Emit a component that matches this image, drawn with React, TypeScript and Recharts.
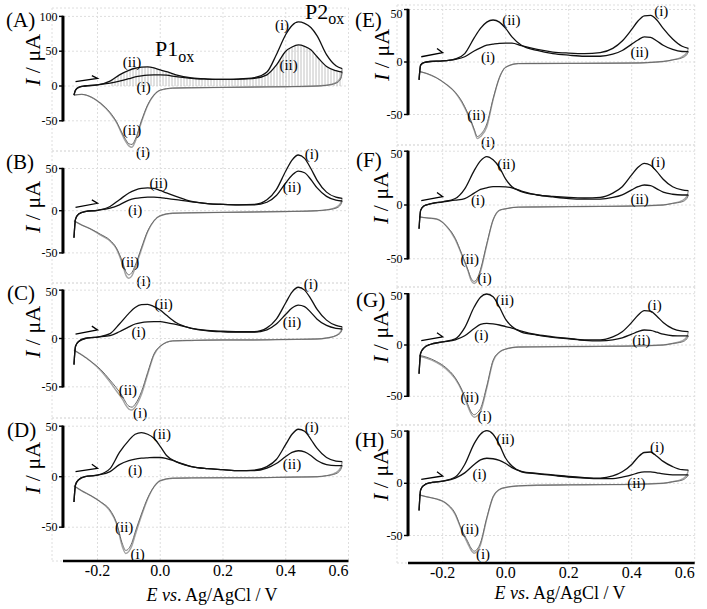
import React from "react";
import {
  ComposedChart,
  Line,
  Area,
  XAxis,
  YAxis,
  CartesianGrid,
  ReferenceDot,
  ReferenceArea,
} from "recharts";

const SERIF = "'Liberation Serif', 'Times New Roman', serif";

// potentials (V vs Ag/AgCl)
const FWD_E = [-0.275, -0.27, -0.26, -0.24, -0.2, -0.16, -0.13, -0.1, -0.08, -0.06, -0.04, -0.02, 0, 0.02, 0.05, 0.1, 0.15, 0.2, 0.25, 0.3, 0.34, 0.37, 0.4, 0.42, 0.44, 0.46, 0.48, 0.5, 0.53, 0.56, 0.58];
const REV_E = [0.58, 0.575, 0.56, 0.53, 0.5, 0.4, 0.3, 0.2, 0.1, 0.04, 0, -0.02, -0.04, -0.06, -0.08, -0.09, -0.1, -0.11, -0.12, -0.14, -0.16, -0.19, -0.22, -0.25, -0.275];
const X_TICKS = [-0.2, 0, 0.2, 0.4, 0.6];
const X_MIN = -0.345;
const X_MAX = 0.6;
const Y_AXIS_E = -0.31;

// currents (uA)
const A_FWD_I = [-13, -6, -2, 0, 1.5, 4, 7, 10.5, 13, 14.5, 15.5, 16, 16, 15.5, 13.5, 11, 10, 9.5, 10, 12, 20, 45, 74, 87, 92, 90, 84, 72, 45, 29, 25];
const A_FWD_II = [-13, -6, -2, 0, 1.5, 7, 16, 22.5, 25.5, 27, 27.5, 26, 23, 20.5, 16, 11.5, 10, 9.5, 10, 11, 16, 30, 50, 56, 59, 57, 52, 42, 28, 22, 20];
const A_REV_I = [25, 12, 5, 1, 0, -1, -1.5, -2, -2.5, -3, -6, -13, -28, -52, -80, -88, -86, -80, -71, -52, -39, -25, -16, -12, -13];
const A_REV_II = [20, 10, 4, 1, 0, -1, -1.5, -2, -2.5, -3, -6, -13, -27, -50, -77, -84, -83, -77, -69, -51, -38, -25, -16, -12, -13];

const B_FWD_I = [-32, -10, -4, -1, 0.5, 3, 7, 12.5, 14.5, 15.5, 16, 16, 15.5, 14.5, 13, 10.5, 8.5, 7.5, 7, 7.5, 13, 25, 47, 60, 66, 62, 50, 36, 22, 16, 14.7];
const B_FWD_II = [-32, -10, -4, -1, 0.5, 5, 13, 21, 24.5, 26.5, 27, 26.5, 24, 21, 17, 11, 8.5, 7.5, 7, 7, 10, 18, 33, 42, 47, 45, 37, 27, 17, 12.5, 11.5];
const B_REV_I = [14.7, 9, 4, 1, 0, -1, -1.5, -2, -2.5, -3, -6, -12, -25, -46, -68, -77, -80, -76, -64, -45, -36, -29, -22, -17, -12];
const B_REV_II = [11.5, 7, 3, 1, 0, -1, -1.5, -2, -2.5, -3, -6, -12, -24, -44, -65, -73, -76, -72, -61, -44, -35, -28, -22, -17, -12];

const C_FWD_I = [-27, -8, -3, 0, 1.5, 3, 7, 12, 15, 16.5, 17.2, 17.5, 17.4, 16.5, 14.5, 10.5, 8.5, 7.5, 7, 7, 11, 20, 37, 48, 53, 50, 41, 30, 19, 13.5, 12];
const C_FWD_II = [-27, -8, -3, 0, 1.5, 5, 15, 26, 32, 35, 35.3, 33, 29.5, 24, 16.5, 10.5, 8, 7, 6.5, 6.5, 9, 15, 25, 31.5, 34.6, 33, 27, 20, 13.5, 10.5, 9.8];
const C_REV_I = [12, 7, 3, 0.5, -0.5, -1, -1.5, -1.5, -2, -2.5, -8, -17, -37, -58, -71, -74, -73, -69, -63, -54, -45, -33, -24, -17, -12];
const C_REV_II = [9.8, 6, 3, 0.5, -0.5, -1, -1.5, -1.5, -2, -2.5, -8, -16, -35, -55, -68, -71, -70, -66, -60, -51, -43, -32, -24, -17, -12];

const D_FWD_I = [-25, -8, -3, 0, 1.5, 5, 12, 16, 17.5, 18.3, 18.7, 19, 19, 18, 15, 10, 8, 7, 6, 6.5, 10, 17, 32, 42, 47, 45, 37, 28, 19, 15.5, 14.9];
const D_FWD_II = [-25, -8, -3, 0, 1.5, 8, 24, 36, 42, 43.6, 42, 38, 30, 21, 15, 10, 8, 7, 6, 6, 8.5, 13, 20, 24, 25.7, 24.5, 21, 16, 12, 11, 11];
const D_REV_I = [14.9, 9, 4, 1, 0, -0.5, -1, -1, -1.2, -1.5, -4, -10, -22, -39, -58, -68, -74, -76, -70, -46, -34, -25, -19, -14, -9];
const D_REV_II = [11, 7, 3, 1, 0, -0.5, -1, -1, -1.2, -1.5, -4, -10, -21, -37, -55, -65, -71, -73, -67, -45, -33, -25, -19, -14, -9];

const E_FWD_I = [-17, -3, -0.5, 0.5, 1, 2.5, 5, 10.5, 13.5, 16, 17, 17.8, 18, 18, 15.5, 12, 9.5, 8.5, 8, 9, 13, 20, 31, 39, 44, 44.5, 40, 32, 22, 15, 13];
const E_FWD_II = [-17, -3, -0.5, 0.5, 1, 3, 8, 23, 32, 38, 40, 38, 32, 24, 16, 11, 8, 6.5, 5.5, 5.5, 7.5, 11, 17, 21, 24, 23.5, 20, 16, 12, 10, 9.8];
const E_REV_I = [13, 9, 5, 2, 0.5, -1, -1.2, -1.3, -1.4, -1.5, -5, -15, -36, -62, -71, -73, -65, -57, -50, -38, -29, -21, -15, -11, -9];
const E_REV_II = [9.8, 7, 4, 2, 0.5, -1, -1.2, -1.3, -1.4, -1.5, -5, -15, -35, -59, -69, -71, -64, -56, -49, -37, -29, -21, -15, -11, -9];

const F_FWD_I = [-22, -5, -1, 1, 3, 4.5, 6, 11, 14.5, 16, 17, 17, 16.8, 16, 13, 9.5, 8, 7, 6.5, 7, 11, 17, 28, 35, 38.7, 37, 31, 24, 17, 14, 13.3];
const F_FWD_II = [-22, -5, -1, 1, 3, 6, 15, 32, 41, 45, 42, 35, 24, 17, 12.5, 9.3, 7.5, 6, 5.5, 5.5, 7, 9.5, 14, 17, 18.6, 18, 15, 12, 10, 9.3, 9.3];
const F_REV_I = [13.3, 8, 4, 1.5, 0, -1, -1.3, -1.5, -1.8, -2, -3.5, -5, -14, -37, -62, -70, -73, -70, -61, -46, -32, -19, -13, -12, -11];
const F_REV_II = [9.3, 6, 3, 1.5, 0, -1, -1.3, -1.5, -1.8, -2, -3.5, -5, -14, -36, -60, -68, -71, -68, -60, -45, -31, -19, -13, -12, -11];

const G_FWD_I = [-28, -8, -3, 0.5, 3, 5, 9, 16, 20, 21, 20.5, 19.5, 18, 16.5, 13.5, 10, 8, 6.5, 5, 5, 8, 13, 22, 29, 33.5, 33, 28, 22, 16, 13.5, 13];
const G_FWD_II = [-28, -8, -3, 0.5, 3, 6, 17, 37, 46.5, 49.7, 47, 37, 25, 18, 12.5, 9.7, 7.5, 6, 4.5, 4, 5, 7, 10.5, 13, 14.6, 14.3, 12.5, 10.5, 9, 8.8, 8.8];
const G_REV_I = [13, 8, 4, 1.5, 0, -1, -1.3, -1.5, -1.8, -2, -4, -7, -16, -42, -65, -69, -70.4, -67, -60, -44, -33, -23, -17, -13, -11];
const G_REV_II = [8.8, 6, 3, 1.5, 0, -1, -1.3, -1.5, -1.8, -2, -4, -7, -15, -40, -62, -66, -68, -65, -58, -43, -32, -22, -16, -12, -10];

const H_FWD_I = [-26, -6.4, -2, 0.5, 2, 5, 10, 18, 22.5, 24, 23.5, 22, 19, 15, 11.5, 9.5, 8, 6.5, 5.5, 5, 7, 11, 18, 25, 29.5, 30, 26, 21, 16, 13, 12.7];
const H_FWD_II = [-26, -6.4, -2, 0.5, 2, 6, 18, 38, 47, 50.4, 47, 37, 24, 16.5, 11, 9, 7.5, 6, 5, 4.5, 4.5, 6, 8, 10, 11, 11, 10, 9, 8, 8, 8];
const H_REV_I = [12.7, 8, 4, 1.5, 0, -1, -1.3, -1.5, -1.8, -2.5, -4, -6, -13, -34, -59, -65, -67, -64, -58, -45, -30, -19, -15, -13, -11];
const H_REV_II = [8, 6, 3, 1.5, 0, -1, -1.3, -1.5, -1.8, -2.5, -4, -6, -13, -33, -57, -63, -65, -62, -56, -44, -29, -19, -15, -13, -11];

// peak labels: [E, I, text]
const A_LABELS = [[0.388, 87.6, "(i)"], [0.409, 30, "(ii)"], [-0.09, 35, "(ii)"], [-0.053, -1, "(i)"], [-0.09, -63, "(ii)"], [-0.055, -94, "(i)"]];
const B_LABELS = [[0.483, 68, "(i)"], [0.42, 28, "(ii)"], [-0.005, 33, "(ii)"], [-0.08, 1, "(i)"], [-0.096, -60, "(ii)"], [-0.053, -83, "(i)"]];
const C_LABELS = [[0.48, 57, "(i)"], [0.42, 17.4, "(ii)"], [0.011, 36, "(ii)"], [-0.069, 7, "(i)"], [-0.103, -53, "(ii)"], [-0.064, -77, "(i)"]];
const D_LABELS = [[0.483, 49.5, "(i)"], [0.42, 13, "(ii)"], [0.005, 43, "(ii)"], [-0.08, 6.6, "(i)"], [-0.115, -49.5, "(ii)"], [-0.072, -76.5, "(i)"]];
const E_LABELS = [[0.494, 49, "(i)"], [0.425, 9.8, "(ii)"], [0.018, 40, "(ii)"], [-0.056, 5, "(i)"], [-0.093, -50.5, "(ii)"], [-0.056, -76, "(i)"]];
const F_LABELS = [[0.484, 40, "(i)"], [0.425, 6.2, "(ii)"], [0.002, 38.7, "(ii)"], [-0.088, 4.6, "(i)"], [-0.114, -49.5, "(ii)"], [-0.067, -68, "(i)"]];
const G_LABELS = [[0.473, 39, "(i)"], [0.431, 4.9, "(ii)"], [-0.003, 43.8, "(ii)"], [-0.077, 9.7, "(i)"], [-0.114, -50.3, "(ii)"], [-0.067, -68.5, "(i)"]];
const H_LABELS = [[0.481, 35, "(i)"], [0.415, 0.6, "(ii)"], [-0.001, 43, "(ii)"], [-0.083, 9.6, "(i)"], [-0.114, -43, "(ii)"], [-0.072, -67.7, "(i)"]];

// scan direction arrows: [E1, I1, E2, I2]
const A_ARROW = [-0.27, 6.2, -0.2, 11];
const B_ARROW = [-0.27, 4, -0.2, 8.8];
const C_ARROW = [-0.27, 4.6, -0.2, 8.8];
const D_ARROW = [-0.27, 5, -0.2, 8.3];
const E_ARROW = [-0.268, 5, -0.2, 8.9];
const F_ARROW = [-0.268, 4, -0.2, 7.7];
const G_ARROW = [-0.268, 4.2, -0.2, 8];
const H_ARROW = [-0.268, 3.8, -0.2, 7];

// pxPerV: horizontal scale of each column (plot width / domain span)
const COLS = [
  { left: 11.76, width: 336.5, pxPerV: 313.75 },
  { left: 357.3, width: 337.7, pxPerV: 315 },
];

const PANELS = [
  { key: "A", col: 0, top: 8, plotH: 143, domain: [-93.39, 112.07], yTicks: [-50, 0, 50, 100], fwd: [A_FWD_I, A_FWD_II], rev: [A_REV_I, A_REV_II], labels: A_LABELS, arrow: A_ARROW, hatch: true },
  { key: "B", col: 0, top: 151, plotH: 132, domain: [-85.66, 70.73], yTicks: [-50, 0, 50], fwd: [B_FWD_I, B_FWD_II], rev: [B_REV_I, B_REV_II], labels: B_LABELS, arrow: B_ARROW },
  { key: "C", col: 0, top: 283, plotH: 135, domain: [-82.21, 57.39], yTicks: [-50, 0, 50], fwd: [C_FWD_I, C_FWD_II], rev: [C_REV_I, C_REV_II], labels: C_LABELS, arrow: C_ARROW },
  { key: "D", col: 0, top: 418, plotH: 143, domain: [-83.47, 58.12], yTicks: [-50, 0, 50], fwd: [D_FWD_I, D_FWD_II], rev: [D_REV_I, D_REV_II], labels: D_LABELS, arrow: D_ARROW, xAxis: true },
  { key: "E", col: 1, top: 5, plotH: 140, domain: [-79.05, 54.29], yTicks: [-50, 0, 50], fwd: [E_FWD_I, E_FWD_II], rev: [E_REV_I, E_REV_II], labels: E_LABELS, arrow: E_ARROW },
  { key: "F", col: 1, top: 145, plotH: 142, domain: [-76.21, 55.76], yTicks: [-50, 0, 50], fwd: [F_FWD_I, F_FWD_II], rev: [F_REV_I, F_REV_II], labels: F_LABELS, arrow: F_ARROW },
  { key: "G", col: 1, top: 287, plotH: 138, domain: [-77.97, 56.53], yTicks: [-50, 0, 50], fwd: [G_FWD_I, G_FWD_II], rev: [G_REV_I, G_REV_II], labels: G_LABELS, arrow: G_ARROW },
  { key: "H", col: 1, top: 425, plotH: 138, domain: [-76.34, 55.84], yTicks: [-50, 0, 50], fwd: [H_FWD_I, H_FWD_II], rev: [H_REV_I, H_REV_II], labels: H_LABELS, arrow: H_ARROW, xAxis: true },
];

const LETTERS = [
  { t: "(A)", x: 6, y: 20 }, { t: "(B)", x: 6, y: 162 }, { t: "(C)", x: 7, y: 293 }, { t: "(D)", x: 7, y: 430 },
  { t: "(E)", x: 355, y: 20 }, { t: "(F)", x: 356, y: 160 }, { t: "(G)", x: 356, y: 300 }, { t: "(H)", x: 355, y: 440 },
];
const Y_TITLES = [
  { x: 33, y: 60 }, { x: 33, y: 207 }, { x: 33, y: 332 }, { x: 33, y: 468 },
  { x: 382, y: 55 }, { x: 381, y: 198 }, { x: 381, y: 337 }, { x: 381, y: 475 },
];

const pts = (es: number[], is: number[]) => es.map((e, k) => ({ e, i: is[k] }));

// y tick label, nudged right so it sits just left of the drawn axis line
const YTick = (props: any) => (
  <text
    x={props.x + 11.5}
    y={props.y}
    dy="0.35em"
    textAnchor="end"
    fontSize={12}
    fontFamily={SERIF}
    fill="#000"
  >
    {props.payload.value}
  </text>
);

function Panel({ p }: { p: any }) {
  const col = COLS[p.col];
  const axisH = p.xAxis ? 32 : 0;
  const topTick = p.yTicks[p.yTicks.length - 1];
  const [x1, y1, x2, y2] = p.arrow;
  const yScale = p.plotH / (p.domain[1] - p.domain[0]); // px per uA
  const halfW = 1.3 / col.pxPerV; // half of the axis bar width, in V
  const stubLen = 4 / col.pxPerV;
  const stubHalfH = 0.7 / yScale;
  const hatchData = pts(FWD_E, p.fwd[1]).filter((d) => d.e >= -0.16);
  const axisData = [{ e: Y_AXIS_E, i: -50 }, { e: Y_AXIS_E, i: 0 }, { e: Y_AXIS_E, i: topTick }];
  const xAxisData = [{ e: Y_AXIS_E, i: p.domain[0] }, { e: X_MAX, i: p.domain[0] }];
  const arrowData = [{ e: x1, i: y1 }, { e: x2, i: y2 }, { e: x2 - 0.018, i: y2 + 4 }];
  const lineProps = { dataKey: "i", dot: false, activeDot: false, type: "monotone" as const, isAnimationActive: false };

  return (
    <div style={{ position: "absolute", left: col.left, top: p.top }}>
      <ComposedChart width={col.width} height={p.plotH + axisH} margin={{ top: 0, right: 0, bottom: 0, left: 0 }}>
        <defs>
          <pattern id={`hatch${p.key}`} width={3} height={6} patternUnits="userSpaceOnUse">
            <line x1={1} y1={0} x2={1} y2={6} stroke="#c2c2c2" strokeWidth={1} />
          </pattern>
        </defs>
        <CartesianGrid stroke="#dedede" strokeDasharray="2 2" />
        <XAxis
          type="number"
          dataKey="e"
          domain={[X_MIN, X_MAX]}
          ticks={X_TICKS}
          hide={!p.xAxis}
          height={axisH}
          tickFormatter={(v: number) => v.toFixed(1)}
          axisLine={false}
          tickLine={false}
          tickSize={2}
          tickMargin={2}
          tick={{ fill: "#000", fontSize: 16, fontFamily: SERIF }}
        />
        <YAxis
          type="number"
          domain={p.domain}
          ticks={p.yTicks}
          width={40}
          axisLine={false}
          tickLine={false}
          tickSize={4}
          tickMargin={2}
          tick={YTick}
        />
        {p.hatch && (
          <Area
            data={hatchData}
            dataKey="i"
            baseValue={0}
            type="monotone"
            stroke="none"
            fill={`url(#hatch${p.key})`}
            fillOpacity={1}
            isAnimationActive={false}
          />
        )}
        <Line {...lineProps} data={pts(REV_E, p.rev[0])} stroke="#a3a3a3" strokeWidth={1.4} />
        <Line {...lineProps} data={pts(REV_E, p.rev[1])} stroke="#6a6a6a" strokeWidth={1} />
        <Line {...lineProps} data={pts(FWD_E, p.fwd[0])} stroke="#111" strokeWidth={1.3} />
        <Line {...lineProps} data={pts(FWD_E, p.fwd[1])} stroke="#111" strokeWidth={1.3} />
        {/* y axis bar, drawn as a thin filled area in data units */}
        <ReferenceArea
          x1={Y_AXIS_E - halfW}
          x2={Y_AXIS_E + halfW}
          y1={-50 - stubHalfH}
          y2={topTick + stubHalfH}
          fill="#000"
          fillOpacity={1}
          stroke="none"
          ifOverflow="visible"
        />
        {p.yTicks.map((t: number) => (
          <ReferenceArea
            key={`stubA${t}`}
            x1={Y_AXIS_E - stubLen}
            x2={Y_AXIS_E}
            y1={t - stubHalfH}
            y2={t + stubHalfH}
            fill="#000"
            fillOpacity={1}
            stroke="none"
            ifOverflow="visible"
          />
        ))}
        <Line {...lineProps} type="linear" data={axisData} stroke="#000" strokeWidth={2.6} />
        {p.xAxis && <Line {...lineProps} type="linear" data={xAxisData} stroke="#000" strokeWidth={2.6} />}
        <Line {...lineProps} type="linear" data={arrowData} stroke="#000" strokeWidth={1.3} />
        {p.labels.map((l: any, k: number) => (
          <ReferenceDot
            key={k}
            x={l[0]}
            y={l[1]}
            r={0}
            fill="none"
            stroke="none"
            ifOverflow="visible"
            label={{ value: l[2], position: "center", fill: "#000", fontSize: 15, fontFamily: SERIF }}
          />
        ))}
      </ComposedChart>
    </div>
  );
}

const abs = (extra: React.CSSProperties): React.CSSProperties => ({
  position: "absolute",
  fontFamily: SERIF,
  color: "#000",
  lineHeight: 1,
  whiteSpace: "nowrap",
  ...extra,
});

export default function App() {
  return (
    <div style={{ position: "absolute", left: 0, top: 0, width: 707, height: 609, background: "#fff", overflow: "hidden" }}>
      <style>{`.recharts-surface { overflow: visible; } .recharts-wrapper { overflow: visible; }`}</style>
      {PANELS.map((p) => (
        <Panel key={p.key} p={p} />
      ))}
      {LETTERS.map((l) => (
        <div key={l.t} style={abs({ left: l.x, top: l.y - 10.5, fontSize: 21 })}>
          {l.t}
        </div>
      ))}
      {Y_TITLES.map((t, k) => (
        <div
          key={k}
          style={abs({ left: t.x, top: t.y, fontSize: 22, transform: "translate(-50%, -50%) rotate(-90deg)" })}
        >
          <i>I</i> / μA
        </div>
      ))}
      <div style={abs({ left: 155, top: 38, fontSize: 22 })}>
        P1<span style={{ fontSize: 16, position: "relative", top: 6 }}>ox</span>
      </div>
      <div style={abs({ left: 305, top: 1, fontSize: 22 })}>
        P2<span style={{ fontSize: 16, position: "relative", top: 5 }}>ox</span>
      </div>
      <div style={abs({ left: 212, top: 586, fontSize: 18, transform: "translateX(-50%)" })}>
        <i>E</i> <i>vs</i>. Ag/AgCl / V
      </div>
      <div style={abs({ left: 560, top: 584, fontSize: 18, transform: "translateX(-50%)" })}>
        <i>E</i> <i>vs</i>. Ag/AgCl / V
      </div>
    </div>
  );
}
